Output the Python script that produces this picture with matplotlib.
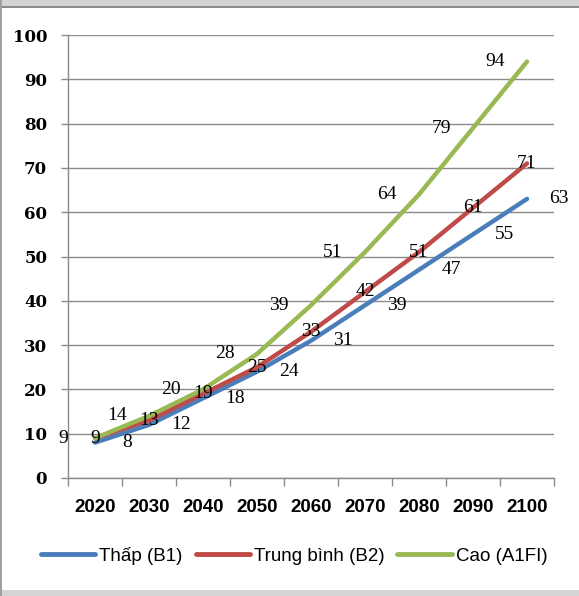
import matplotlib
matplotlib.use("Agg")
import matplotlib.pyplot as plt
from matplotlib.patches import Rectangle
from matplotlib.lines import Line2D
from matplotlib import font_manager

# số liệu nước biển dâng (cm) theo các kịch bản
years = ["2020", "2030", "2040", "2050", "2060", "2070", "2080", "2090", "2100"]
thap_b1 = [8, 12, 18, 24, 31, 39, 47, 55, 63]
trungbinh_b2 = [9, 13, 19, 25, 33, 42, 51, 61, 71]
cao_a1fi = [9, 14, 20, 28, 39, 51, 64, 79, 94]
series_names = ["Thấp (B1)", "Trung bình (B2)", "Cao (A1FI)"]
yticks = [0, 10, 20, 30, 40, 50, 60, 70, 80, 90, 100]

colors = ["#4A7EBB", "#BE4B48", "#98B954"]
label_dx = [23, 0, -23]  # lệch nhãn số liệu (points)
grid_color = "#8a8a8a"

installed = {f.name for f in font_manager.fontManager.ttflist}
legend_font = "Liberation Sans Narrow" if "Liberation Sans Narrow" in installed else "Liberation Sans"
legend_size = 16 if legend_font == "Liberation Sans Narrow" else 13.5

W, H = 579, 596
fig = plt.figure(figsize=(W / 100, H / 100), dpi=100, facecolor="white")

# khung viền xám quanh hình
def px_rect(x, y, w, h, color):
    fig.add_artist(Rectangle((x / W, 1 - (y + h) / H), w / W, h / H,
                             transform=fig.transFigure, color=color, lw=0, zorder=-5))

px_rect(0, 0, W, 6, "#d4d4d4")
px_rect(0, 6, W, 1.5, "#8c8c8c")
px_rect(0, 590, W, 6, "#d4d4d4")
px_rect(0, 0, 1.5, H, "#a0a0a0")

ax = fig.add_axes([68 / W, 1 - 478 / H, (554 - 68) / W, (478 - 35) / H])
ax.set_facecolor("white")

x = list(range(len(years)))
data = [thap_b1, trungbinh_b2, cao_a1fi]
for vals, c, dx in zip(data, colors, label_dx):
    ax.plot(x, vals, color=c, lw=3.2, solid_capstyle="round", solid_joinstyle="round", zorder=3)
    for xi, v in zip(x, vals):
        ax.annotate(str(v), (xi, v), xytext=(dx, 0), textcoords="offset points",
                    ha="center", va="center", fontsize=14,
                    family=["Liberation Serif", "DejaVu Serif"],
                    annotation_clip=False, zorder=4)

ax.set_xlim(-0.5, len(years) - 0.5)
ax.set_ylim(0, 100)
ax.set_yticks(yticks)
ax.set_yticklabels([str(t) for t in yticks], fontsize=12, fontweight="bold",
                   family="DejaVu Serif")
ax.set_xticks(x)
ax.set_xticklabels(years, fontsize=13.5, fontweight="bold", family="Liberation Sans")
ax.set_xticks([i - 0.5 for i in range(len(years) + 1)], minor=True)

ax.tick_params(axis="x", which="major", length=0, pad=15)
ax.tick_params(axis="x", which="minor", length=6, color=grid_color, width=1)
ax.tick_params(axis="y", length=5, color=grid_color, width=1, pad=10)

ax.grid(axis="y", color=grid_color, lw=1)
ax.set_axisbelow(True)
for side in ["top", "right"]:
    ax.spines[side].set_visible(False)
for side in ["left", "bottom"]:
    ax.spines[side].set_color(grid_color)
    ax.spines[side].set_linewidth(1)

handles = [Line2D([], [], color=c, lw=3.5, solid_capstyle="round") for c in colors]
fig.legend(handles, series_names, loc="center", bbox_to_anchor=(294 / W, 1 - 556 / H),
           ncol=3, frameon=False, handlelength=2.9, handletextpad=0.2,
           columnspacing=0.7, prop={"family": legend_font, "size": legend_size})

fig.savefig("out.png", dpi=100)
